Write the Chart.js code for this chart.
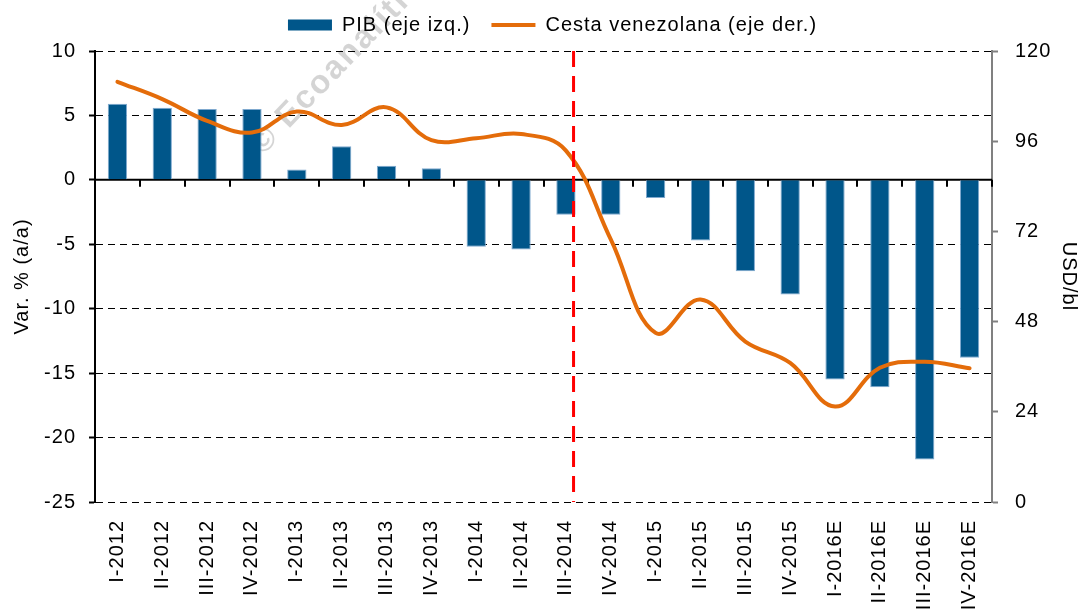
<!DOCTYPE html>
<html>
<head>
<meta charset="utf-8">
<script src="https://cdn.jsdelivr.net/npm/chart.js@4.4.1/dist/chart.umd.min.js"></script>
<style>
html, body { margin: 0; padding: 0; background: #fff; overflow: hidden; }
canvas { display: block; }
</style>
</head>
<body>
<canvas id="myChart" width="1081" height="614"></canvas>
<script>
// data
var quarters = ['I-2012','II-2012','III-2012','IV-2012','I-2013','II-2013','III-2013','IV-2013',
  'I-2014','II-2014','III-2014','IV-2014','I-2015','II-2015','III-2015','IV-2015',
  'I-2016E','II-2016E','III-2016E','IV-2016E'];
var pibValues = [5.9, 5.6, 5.5, 5.5, 0.8, 2.6, 1.1, 0.9, -5.2, -5.4, -2.7, -2.7,
  -1.4, -4.7, -7.1, -8.9, -15.5, -16.1, -21.7, -13.8];
var cestaValues = [111.8, 107.2, 101.4, 98.3, 103.9, 100.3, 105.0, 96.3, 96.8, 97.9, 93.5, 69.9,
  45.0, 53.9, 42.7, 37.0, 25.4, 35.7, 37.3, 35.6];
var leftTicks = [-25, -20, -15, -10, -5, 0, 5, 10];
var rightTicks = [0, 24, 48, 72, 96, 120];
var breakQuarter = 'III-2014';

var fontFamily = "'Liberation Sans', Arial, sans-serif";
Chart.defaults.font.family = fontFamily;
Chart.defaults.font.size = 20;
Chart.defaults.color = '#000';

var chartDecor = {
  id: 'chartDecor',
  beforeUpdate: function(chart) {
    chart.ctx.letterSpacing = '1px';
  },
  afterLayout: function(chart) {
    // legend sits a bit right and higher in the original
    var lg = chart.legend;
    lg.left += 12; lg.right += 12;
    lg.top -= 6; lg.bottom -= 6;
  },
  beforeDraw: function(chart) {
    chart.ctx.letterSpacing = '1px';
  },
  beforeDatasetsDraw: function(chart) {
    var ctx = chart.ctx;
    var x = chart.scales.x, y = chart.scales.y;
    var area = chart.chartArea;

    // watermark
    ctx.save();
    ctx.translate(256, 150);
    ctx.rotate(-46 * Math.PI / 180);
    ctx.font = 'bold 33px ' + fontFamily;
    ctx.letterSpacing = '2px';
    ctx.fillStyle = 'rgba(0,0,0,0.17)';
    ctx.fillText('\u00A9 Ecoanal\u00EDtica', 0, 0);
    ctx.restore();

    // zero line with category ticks
    var y0 = y.getPixelForValue(0);
    var step = x.getPixelForValue(1) - x.getPixelForValue(0);
    ctx.save();
    ctx.strokeStyle = '#000';
    ctx.lineWidth = 2;
    ctx.beginPath();
    ctx.moveTo(area.left, y0);
    ctx.lineTo(area.right, y0);
    for (var i = 0; i < quarters.length; i++) {
      var bx = Math.round(x.getPixelForValue(i) + step / 2);
      ctx.moveTo(bx, y0);
      ctx.lineTo(bx, y0 + 7);
    }
    ctx.stroke();
    ctx.restore();
  },
  afterDatasetsDraw: function(chart) {
    var ctx = chart.ctx;
    var x = chart.scales.x;
    var area = chart.chartArea;
    var step = x.getPixelForValue(1) - x.getPixelForValue(0);
    var rx = x.getPixelForValue(quarters.indexOf(breakQuarter)) + 0.17 * step;
    ctx.save();
    ctx.strokeStyle = '#ff0000';
    ctx.lineWidth = 3;
    ctx.setLineDash([16, 9]);
    ctx.beginPath();
    ctx.moveTo(rx, area.top);
    ctx.lineTo(rx, area.bottom);
    ctx.stroke();
    ctx.restore();
  }
};

var myChart = document.getElementById('myChart');
var pibChart = new Chart(myChart, {
  data: {
    labels: quarters,
    datasets: [{
      type: 'bar',
      label: 'PIB (eje izq.)',
      data: pibValues,
      backgroundColor: '#00568A',
      borderColor: '#7FA9CF',
      borderWidth: 1,
      barPercentage: 0.43,
      categoryPercentage: 1.0,
      yAxisID: 'y',
      order: 2
    }, {
      type: 'line',
      label: 'Cesta venezolana (eje der.)',
      data: cestaValues,
      borderColor: '#E46C0A',
      backgroundColor: '#E46C0A',
      borderWidth: 4,
      borderCapStyle: 'round',
      tension: 0.4,
      pointRadius: 0,
      fill: false,
      yAxisID: 'y1',
      order: 1
    }]
  },
  options: {
    responsive: false,
    animation: false,
    devicePixelRatio: 1,
    plugins: {
      tooltip: { enabled: false },
      legend: {
        position: 'top',
        labels: {
          usePointStyle: true,
          pointStyleWidth: 44,
          boxHeight: 11,
          padding: 21,
          font: { size: 20 },
          generateLabels: function(chart) {
            return chart.data.datasets.map(function(ds, i) {
              var isLine = ds.type === 'line';
              return {
                text: ds.label,
                fillStyle: isLine ? ds.borderColor : ds.backgroundColor,
                strokeStyle: isLine ? ds.borderColor : ds.backgroundColor,
                lineWidth: isLine ? 4 : 0,
                pointStyle: isLine ? 'line' : 'rect',
                hidden: false,
                datasetIndex: i,
                fontColor: '#000'
              };
            });
          }
        }
      }
    },
    scales: {
      x: {
        grid: { display: false, drawTicks: false },
        border: { display: false },
        ticks: { autoSkip: false, minRotation: 90, maxRotation: 90, padding: 18, font: { size: 20 } },
        afterFit: function(s) { s.height = 112; }
      },
      y: {
        position: 'left',
        min: leftTicks[0],
        max: leftTicks[leftTicks.length - 1],
        ticks: { stepSize: leftTicks[1] - leftTicks[0], padding: 13, font: { size: 20 } },
        grid: {
          color: function(c) { return c.tick && c.tick.value === 0 ? 'rgba(0,0,0,0)' : '#000'; },
          lineWidth: 1,
          tickLength: 6,
          tickColor: '#000',
          tickWidth: 2
        },
        border: { display: true, color: '#000', width: 2, dash: [7, 5] },
        title: { display: true, text: 'Var. % (a/a)', font: { size: 20 }, padding: { top: 10, bottom: 0 } },
        afterFit: function(s) { s.width = 95; }
      },
      y1: {
        position: 'right',
        min: rightTicks[0],
        max: rightTicks[rightTicks.length - 1],
        ticks: { stepSize: rightTicks[1] - rightTicks[0], padding: 17, font: { size: 20 } },
        grid: { drawOnChartArea: false, tickLength: 6, tickColor: '#808080', tickWidth: 2 },
        border: { display: true, color: '#808080', width: 2 },
        title: { display: true, text: 'USD/bl', font: { size: 20 }, padding: { top: 0, bottom: 0 } },
        afterFit: function(s) { s.width = 89; }
      }
    }
  },
  plugins: [chartDecor]
});
</script>
</body>
</html>
